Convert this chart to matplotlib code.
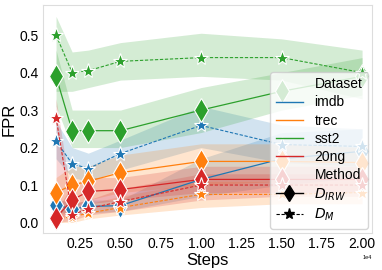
import matplotlib
matplotlib.use('Agg')
import matplotlib.pyplot as plt
from matplotlib.lines import Line2D
from matplotlib.ticker import MultipleLocator
import numpy as np

plt.rcParams['font.family'] = ['Liberation Sans', 'DejaVu Sans']

# training steps
steps = [1000, 2000, 3000, 5000, 10000, 15000, 20000]
datasets = ['imdb', 'trec', 'sst2', '20ng']
colors = ['#1f77b4', '#ff7f0e', '#2ca02c', '#d62728']

# FPR means, D_IRW (solid, diamond)
irw_mean = {
    'imdb': [0.048, 0.035, 0.043, 0.045, 0.115, 0.17, 0.19],
    'trec': [0.08, 0.10, 0.11, 0.133, 0.163, 0.163, 0.16],
    'sst2': [0.39, 0.245, 0.245, 0.245, 0.30, 0.35, 0.39],
    '20ng': [0.013, 0.06, 0.083, 0.088, 0.115, 0.115, 0.115],
}
irw_low = {
    'imdb': [0.03, 0.02, 0.025, 0.03, 0.07, 0.10, 0.12],
    'trec': [0.04, 0.04, 0.06, 0.08, 0.10, 0.11, 0.11],
    'sst2': [0.31, 0.20, 0.20, 0.20, 0.24, 0.30, 0.34],
    '20ng': [0.0, 0.03, 0.05, 0.06, 0.08, 0.08, 0.08],
}
irw_high = {
    'imdb': [0.065, 0.05, 0.06, 0.06, 0.17, 0.24, 0.25],
    'trec': [0.12, 0.15, 0.15, 0.18, 0.21, 0.21, 0.20],
    'sst2': [0.46, 0.30, 0.30, 0.30, 0.36, 0.40, 0.44],
    '20ng': [0.03, 0.10, 0.12, 0.12, 0.15, 0.15, 0.15],
}

# FPR means, D_M (dashed, star)
m_mean = {
    'imdb': [0.217, 0.157, 0.144, 0.184, 0.259, 0.208, 0.203],
    'trec': [0.01, 0.015, 0.025, 0.04, 0.075, 0.075, 0.08],
    'sst2': [0.50, 0.40, 0.405, 0.43, 0.44, 0.44, 0.40],
    '20ng': [0.28, 0.02, 0.037, 0.056, 0.10, 0.10, 0.10],
}
m_low = {
    'imdb': [0.17, 0.12, 0.11, 0.14, 0.20, 0.16, 0.15],
    'trec': [0.0, 0.0, 0.01, 0.02, 0.04, 0.05, 0.05],
    'sst2': [0.35, 0.35, 0.36, 0.38, 0.39, 0.38, 0.33],
    '20ng': [0.0, 0.005, 0.02, 0.03, 0.06, 0.07, 0.07],
}
m_high = {
    'imdb': [0.27, 0.20, 0.185, 0.22, 0.31, 0.26, 0.25],
    'trec': [0.03, 0.04, 0.05, 0.07, 0.11, 0.11, 0.11],
    'sst2': [0.55, 0.455, 0.46, 0.48, 0.505, 0.49, 0.46],
    '20ng': [0.33, 0.05, 0.06, 0.09, 0.13, 0.13, 0.13],
}

fig = plt.figure(figsize=(3.82, 2.7), dpi=100)
ax = fig.add_axes([0.113, 0.137, 0.861, 0.844])

for name, c in zip(datasets, colors):
    ax.fill_between(steps, irw_low[name], irw_high[name], color=c, alpha=0.2, lw=0)
    ax.plot(steps, irw_mean[name], color=c, lw=0.9, ls='-', marker='d', ms=12,
            mec='white', mew=0.8)
    ax.fill_between(steps, m_low[name], m_high[name], color=c, alpha=0.2, lw=0)
    ax.plot(steps, m_mean[name], color=c, lw=0.8, dashes=(3, 1.5), marker='*', ms=11,
            mec='white', mew=0.8)

ax.set_xlim(200, 20620)
ax.set_ylim(-0.028, 0.58)
ax.xaxis.set_major_locator(MultipleLocator(2500))
ax.ticklabel_format(axis='x', style='sci', scilimits=(0, 0))
ax.set_xlabel('Steps', fontsize=12, labelpad=1)
ax.set_ylabel('FPR', fontsize=12, labelpad=2)
ax.tick_params(labelsize=10, length=0, pad=3)
ax.xaxis.get_offset_text().set_fontsize(4)
for s in ax.spines.values():
    s.set_color('#dddddd')

# seaborn-like legend with section titles
handles = [Line2D([], [], color='none', label='Dataset')]
for name, c in zip(datasets, colors):
    handles.append(Line2D([], [], color=c, lw=1, label=name))
handles.append(Line2D([], [], color='none', label='Method'))
handles.append(Line2D([], [], color='black', lw=1, ls='-', marker='d', ms=8, label='$D_{IRW}$'))
handles.append(Line2D([], [], color='black', lw=0.8, dashes=(3, 1.5), marker='*', ms=8,
                      label='$D_M$'))
ax.legend(handles=handles, loc='lower right', fontsize=10, framealpha=0.8,
          handlelength=2.0, labelspacing=0.3, borderaxespad=0.3)

fig.savefig('out.png', dpi=100)
